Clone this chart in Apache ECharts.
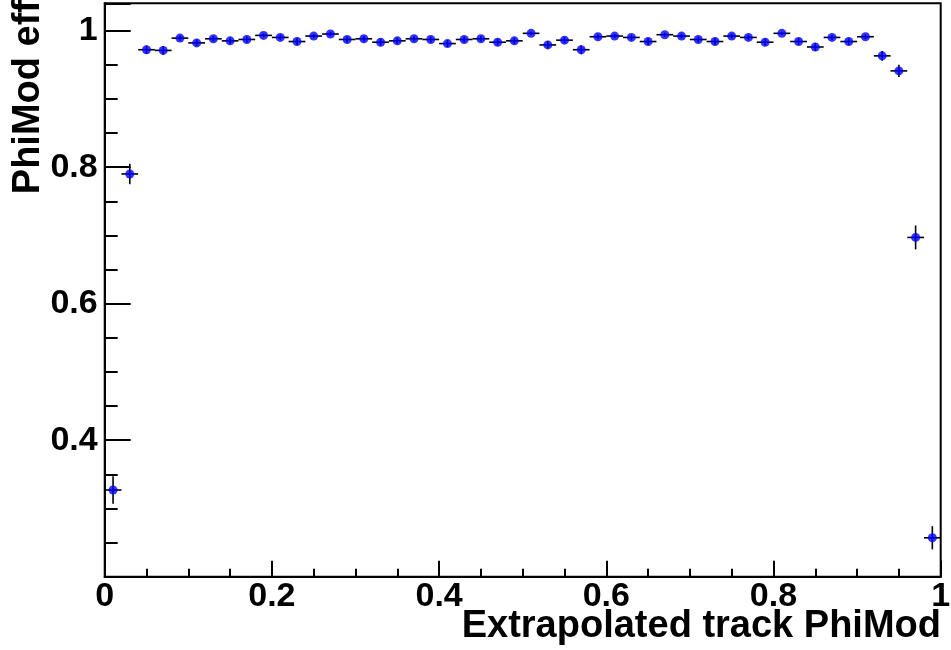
<!DOCTYPE html>
<html>
<head>
<meta charset="utf-8">
<script src="https://cdn.jsdelivr.net/npm/echarts@6/dist/echarts.min.js"></script>
<style>
html,body{margin:0;padding:0;background:#fff;}
#chart{width:951px;height:650px;}
</style>
</head>
<body>
<div id="chart"></div>
<script>
// ---- data ----
var binCenters = [0.01,0.03,0.05,0.07,0.09,0.11,0.13,0.15,0.17,0.19,
                  0.21,0.23,0.25,0.27,0.29,0.31,0.33,0.35,0.37,0.39,
                  0.41,0.43,0.45,0.47,0.49,0.51,0.53,0.55,0.57,0.59,
                  0.61,0.63,0.65,0.67,0.69,0.71,0.73,0.75,0.77,0.79,
                  0.81,0.83,0.85,0.87,0.89,0.91,0.93,0.95,0.97,0.99];
var binHalfWidth = 0.01;
var effValues = [0.327,0.790,0.972,0.971,0.989,0.982,0.988,0.985,0.987,0.993,
                 0.990,0.984,0.992,0.995,0.987,0.988,0.983,0.985,0.988,0.987,
                 0.981,0.987,0.988,0.983,0.985,0.996,0.979,0.986,0.972,0.991,
                 0.992,0.990,0.984,0.994,0.992,0.987,0.984,0.992,0.990,0.983,
                 0.996,0.984,0.976,0.990,0.984,0.991,0.963,0.941,0.697,0.257];
var effErrors = [0.020,0.015,0.006,0.0065,0.004,0.005,0.004,0.0045,0.0045,0.003,
                 0.004,0.005,0.003,0.003,0.0045,0.004,0.005,0.0045,0.004,0.0045,
                 0.005,0.0045,0.004,0.005,0.0045,0.0025,0.0055,0.0045,0.0065,0.0035,
                 0.003,0.004,0.005,0.003,0.0035,0.0045,0.005,0.0035,0.004,0.005,
                 0.0025,0.005,0.006,0.004,0.005,0.0035,0.007,0.009,0.0175,0.017];
var xTickLabels = ['0','0.2','0.4','0.6','0.8','1'];
var yTickLabels = ['0.4','0.6','0.8','1'];
var xTitle = 'Extrapolated track PhiMod';
var yTitle = 'PhiMod eff';

// ---- build ----
var FONT = 'Liberation Sans, Arial, Helvetica, sans-serif';
var pts = binCenters.map(function(x,i){ return [x, effValues[i], effErrors[i], binHalfWidth]; });

function fmtLabel(list){
  return function(v){
    var s = String(Math.round(v*1000)/1000);
    return list.indexOf(s) >= 0 ? s : '';
  };
}

var chart = echarts.init(document.getElementById('chart'), null, {renderer:'canvas'});
chart.setOption({
  animation:false,
  backgroundColor:'#fff',
  grid:{left:104.7, right:10.3, top:3.3, bottom:73.3, containLabel:false, outerBoundsMode:'none',
        show:true, borderColor:'#000', borderWidth:2, backgroundColor:'transparent'},
  xAxis:{
    type:'value', min:0, max:1, interval:0.2,
    axisLine:{show:true, lineStyle:{color:'#000', width:2}},
    axisTick:{show:true, inside:true, length:16, lineStyle:{color:'#000', width:2}},
    minorTick:{show:true, splitNumber:4, length:8, lineStyle:{color:'#000', width:2}},
    splitLine:{show:false},
    axisLabel:{formatter:fmtLabel(xTickLabels), color:'#000', fontFamily:FONT, fontWeight:'bold', fontSize:34, margin:3, showMinLabel:true, showMaxLabel:true}
  },
  yAxis:{
    type:'value', min:0.2, max:1.04, interval:0.2,
    axisLine:{show:true, lineStyle:{color:'#000', width:2}},
    axisTick:{show:true, inside:true, length:26, lineStyle:{color:'#000', width:2}},
    minorTick:{show:true, splitNumber:4, length:13, lineStyle:{color:'#000', width:2}},
    splitLine:{show:false},
    axisLabel:{formatter:fmtLabel(yTickLabels), color:'#000', fontFamily:FONT, fontWeight:'bold', fontSize:34, margin:7}
  },
  graphic:[
    {
      type:'text', x:29, y:0, rotation:Math.PI/2,
      style:{text:yTitle, fill:'#000', font:'bold 38px ' + FONT, textAlign:'right', textVerticalAlign:'middle'}
    },
    {
      type:'text', x:941, y:627,
      style:{text:xTitle, fill:'#000', font:'bold 38px ' + FONT, textAlign:'right', textVerticalAlign:'middle'}
    }
  ],
  series:[
    {
      type:'custom',
      data:pts,
      z:2,
      renderItem:function(params, api){
        var x = api.value(0), y = api.value(1), e = api.value(2), h = api.value(3);
        var l = api.coord([x-h, y]), r = api.coord([x+h, y]);
        var t = api.coord([x, y+e]), b = api.coord([x, y-e]);
        var st = {stroke:'#000', lineWidth:1.6};
        return {type:'group', children:[
          {type:'line', shape:{x1:l[0], y1:l[1], x2:r[0], y2:r[1]}, style:st},
          {type:'line', shape:{x1:t[0], y1:t[1], x2:b[0], y2:b[1]}, style:st}
        ]};
      }
    },
    {
      type:'scatter',
      data:pts.map(function(p){return [p[0],p[1]];}),
      symbol:'circle', symbolSize:9,
      itemStyle:{color:'#0000ff'},
      z:3
    }
  ]
});
</script>
</body>
</html>
